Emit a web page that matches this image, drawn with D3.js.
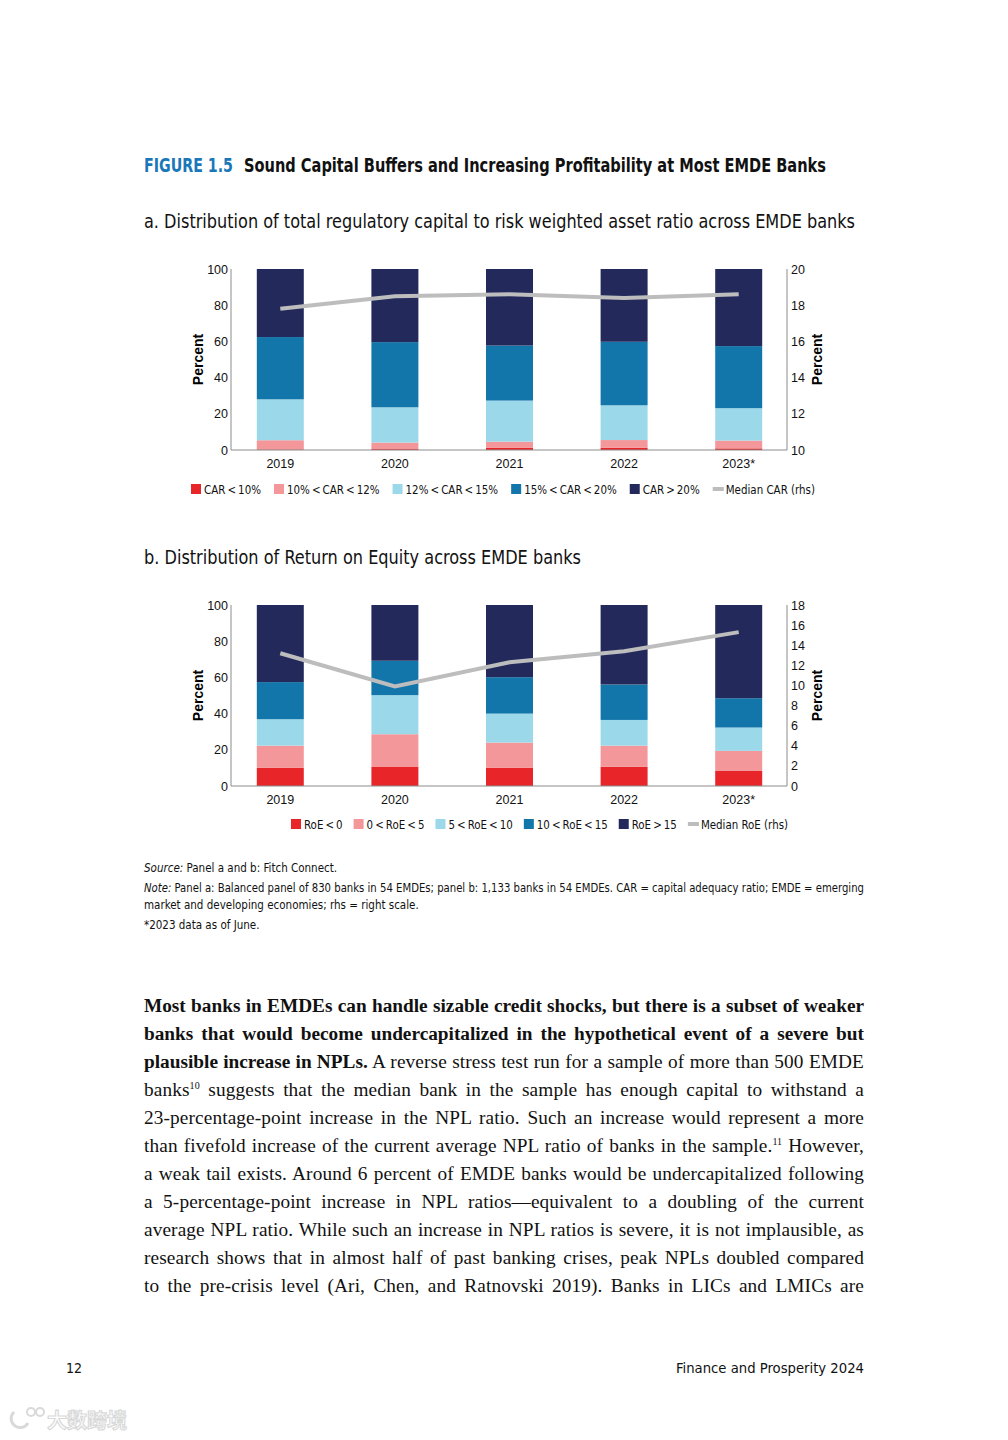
<!DOCTYPE html>
<html>
<head>
<meta charset="utf-8">
<script src="https://cdn.jsdelivr.net/npm/d3@7"></script>
<style>
  body { margin: 0; background: #fff; }
  #page { position: relative; width: 1008px; height: 1440px; overflow: hidden; }
  svg { position: absolute; left: 0; top: 0; }
  .cond { font-family: "Liberation Sans Narrow", "DejaVu Sans Condensed", "Roboto", sans-serif; font-stretch: condensed; }
  #body { position: absolute; left: 144px; top: 992px; width: 720px;
          font-family: "Liberation Serif", "DejaVu Serif", serif; font-size: 19.3px; letter-spacing: 0.12px; color: #111; }
  #body div { height: 28px; line-height: 28px; text-align: justify; text-align-last: justify; white-space: nowrap; }
  #body b { letter-spacing: 0; }
  #body sup { font-size: 10px; line-height: 0; vertical-align: 7px; }
</style>
</head>
<body>
<div id="page">
  <svg id="fig" width="1008" height="1440"></svg>
  <div id="body"></div>
</div>
<script>
const years = ["2019", "2020", "2021", "2022", "2023*"];

// panel a: share of banks by CAR band (percent)
const carBands = ["CAR\u2009<\u200910%", "10%\u2009<\u2009CAR\u2009<\u200912%", "12%\u2009<\u2009CAR\u2009<\u200915%", "15%\u2009<\u2009CAR\u2009<\u200920%", "CAR\u2009>\u200920%"];
const carBelow10 = [0.3, 0.5, 1.3, 1.3, 0.9];
const car10to12 = [5.1, 3.6, 3.3, 4.2, 4.3];
const car12to15 = [22.6, 19.5, 22.7, 19.2, 17.9];
const car15to20 = [34.4, 36.0, 30.4, 35.1, 34.3];
const carAbove20 = [37.6, 40.4, 42.3, 40.2, 42.6];
const medianCar = [17.8, 18.5, 18.6, 18.4, 18.6];

// panel b: share of banks by RoE band (percent)
const roeBands = ["RoE\u2009<\u20090", "0\u2009<\u2009RoE\u2009<\u20095", "5\u2009<\u2009RoE\u2009<\u200910", "10\u2009<\u2009RoE\u2009<\u200915", "RoE\u2009>\u200915"];
const roeBelow0 = [10.0, 10.5, 10.0, 10.7, 8.3];
const roe0to5 = [12.3, 18.1, 14.0, 11.6, 11.1];
const roe5to10 = [14.6, 21.6, 16.0, 14.2, 12.9];
const roe10to15 = [20.5, 19.0, 20.1, 19.6, 16.2];
const roeAbove15 = [42.6, 30.8, 39.9, 43.9, 51.5];
const medianRoe = [13.2, 9.9, 12.3, 13.4, 15.3];

const leftTicks = [0, 20, 40, 60, 80, 100];
const rightTicksA = [10, 12, 14, 16, 18, 20];
const rightTicksB = [0, 2, 4, 6, 8, 10, 12, 14, 16, 18];

const colors = ["#e8262a", "#f4979a", "#9bd9ea", "#1376ab", "#23295b"];
const lineColor = "#bdbdbd";
const axisColor = "#8c8c8c";

const svg = d3.select("#fig");

// headings
const head = svg.append("g").attr("class", "cond");
head.append("text").attr("x", 144).attr("y", 172)
  .attr("font-size", 19).attr("font-weight", "bold").attr("fill", "#1a78b8")
  .attr("textLength", 89).attr("lengthAdjust", "spacingAndGlyphs")
  .text("FIGURE 1.5");
head.append("text").attr("x", 244).attr("y", 172)
  .attr("font-size", 19).attr("font-weight", "bold").attr("fill", "#111")
  .attr("textLength", 582).attr("lengthAdjust", "spacingAndGlyphs")
  .text("Sound Capital Buffers and Increasing Profitability at Most EMDE Banks");
head.append("text").attr("x", 144).attr("y", 228)
  .attr("font-size", 19).attr("fill", "#111")
  .attr("textLength", 711).attr("lengthAdjust", "spacingAndGlyphs")
  .text("a. Distribution of total regulatory capital to risk weighted asset ratio across EMDE banks");
head.append("text").attr("x", 144).attr("y", 564)
  .attr("font-size", 19).attr("fill", "#111")
  .attr("textLength", 437).attr("lengthAdjust", "spacingAndGlyphs")
  .text("b. Distribution of Return on Equity across EMDE banks");

function drawPanel(cfg) {
  const g = svg.append("g").attr("class", "cond");
  const x = d3.scaleBand().domain(years).range([223, 796]).paddingInner(0.59).paddingOuter(0.295);
  const y = d3.scaleLinear().domain([0, 100]).range([cfg.bottom, cfg.top]);
  const y2 = d3.scaleLinear().domain(cfg.rightDomain).range([cfg.bottom, cfg.top]);

  const rows = years.map((yr, i) => {
    const r = { year: yr };
    cfg.series.forEach((s, k) => { r[k] = s[i]; });
    return r;
  });
  const stack = d3.stack().keys(d3.range(cfg.series.length))(rows);

  g.selectAll(".layer").data(stack).join("g")
    .attr("fill", (d, k) => colors[k])
    .selectAll("rect").data(d => d).join("rect")
    .attr("x", d => x(d.data.year))
    .attr("width", x.bandwidth())
    .attr("y", d => y(d[1]))
    .attr("height", d => y(d[0]) - y(d[1]));

  // axis lines, no tick marks
  g.append("line").attr("x1", 231).attr("x2", 231).attr("y1", cfg.top).attr("y2", cfg.bottom)
    .attr("stroke", axisColor).attr("stroke-width", 1);
  g.append("line").attr("x1", 787).attr("x2", 787).attr("y1", cfg.top).attr("y2", cfg.bottom)
    .attr("stroke", axisColor).attr("stroke-width", 1);
  g.append("line").attr("x1", 231).attr("x2", 787).attr("y1", cfg.bottom).attr("y2", cfg.bottom)
    .attr("stroke", axisColor).attr("stroke-width", 1);

  const left = d3.axisLeft(y).tickValues(leftTicks).tickSize(0).tickPadding(3);
  g.append("g").attr("transform", "translate(231,0)").call(left)
    .call(a => a.select(".domain").remove())
    .selectAll("text").attr("font-size", 12.5).attr("fill", "#111").attr("font-family", null);

  const right = d3.axisRight(y2).tickValues(cfg.rightTicks).tickSize(0).tickPadding(4);
  g.append("g").attr("transform", "translate(787,0)").call(right)
    .call(a => a.select(".domain").remove())
    .selectAll("text").attr("font-size", 12.5).attr("fill", "#111").attr("font-family", null);

  const bottom = d3.axisBottom(x).tickSize(0).tickPadding(9);
  g.append("g").attr("transform", `translate(0,${cfg.bottom})`).call(bottom)
    .call(a => a.select(".domain").remove())
    .selectAll("text").attr("font-size", 12.5).attr("fill", "#111").attr("font-family", null);

  const mid = (cfg.top + cfg.bottom) / 2;
  g.append("text").attr("transform", `translate(203,${mid}) rotate(-90)`)
    .attr("text-anchor", "middle").attr("font-size", 14).attr("font-weight", "bold")
    .attr("font-family", "Liberation Sans, Arial, sans-serif").text("Percent");
  g.append("text").attr("transform", `translate(822,${mid}) rotate(-90)`)
    .attr("text-anchor", "middle").attr("font-size", 14).attr("font-weight", "bold")
    .attr("font-family", "Liberation Sans, Arial, sans-serif").text("Percent");

  const line = d3.line().x((d, i) => x(years[i]) + x.bandwidth() / 2).y(d => y2(d));
  g.append("path").datum(cfg.median).attr("d", line)
    .attr("fill", "none").attr("stroke", lineColor).attr("stroke-width", 4);

  // legend: measure the labels, then squeeze them so the row fits its width
  const lg = g.append("g").attr("transform", `translate(${cfg.legendX},${cfg.legendY})`);
  const labels = cfg.labels.concat([cfg.medianLabel]);
  const texts = labels.map(lab => lg.append("text").attr("y", 4.5).attr("font-size", 12.5).attr("fill", "#111").text(lab));
  const natural = texts.map(t => t.node().getComputedTextLength());
  const fixed = labels.length * 13 + (labels.length - 1) * cfg.legendGap;
  const k = Math.min(1, (cfg.legendWidth - fixed) / d3.sum(natural));
  let cx = 0;
  labels.forEach((lab, i) => {
    if (i < colors.length) {
      lg.append("rect").attr("x", cx).attr("y", -5).attr("width", 10).attr("height", 10).attr("fill", colors[i]);
    } else {
      lg.append("rect").attr("x", cx).attr("y", -2).attr("width", 11).attr("height", 4).attr("fill", lineColor);
    }
    const w = natural[i] * k;
    texts[i].attr("x", cx + 13).attr("textLength", w).attr("lengthAdjust", "spacingAndGlyphs");
    cx += 13 + w + cfg.legendGap;
  });
}

drawPanel({
  top: 269, bottom: 450, rightDomain: [10, 20], rightTicks: rightTicksA,
  series: [carBelow10, car10to12, car12to15, car15to20, carAbove20],
  median: medianCar, labels: carBands, medianLabel: "Median CAR (rhs)",
  legendX: 191, legendY: 489, legendGap: 13, legendWidth: 624
});

drawPanel({
  top: 605, bottom: 786, rightDomain: [0, 18], rightTicks: rightTicksB,
  series: [roeBelow0, roe0to5, roe5to10, roe10to15, roeAbove15],
  median: medianRoe, labels: roeBands, medianLabel: "Median RoE (rhs)",
  legendX: 291, legendY: 824, legendGap: 11, legendWidth: 497
});

// source and notes
const notes = svg.append("g").attr("class", "cond").attr("font-size", 11.5).attr("fill", "#111");
const n1 = notes.append("text").attr("x", 144).attr("y", 872);
n1.append("tspan").attr("font-style", "italic").text("Source:");
n1.append("tspan").text(" Panel a and b: Fitch Connect.");
const n2 = notes.append("text").attr("x", 144).attr("y", 892)
  .attr("textLength", 720).attr("lengthAdjust", "spacingAndGlyphs");
n2.append("tspan").attr("font-style", "italic").text("Note:");
n2.append("tspan").text(" Panel a: Balanced panel of 830 banks in 54 EMDEs; panel b: 1,133 banks in 54 EMDEs. CAR = capital adequacy ratio; EMDE = emerging");
notes.append("text").attr("x", 144).attr("y", 909).text("market and developing economies; rhs = right scale.");
notes.append("text").attr("x", 144).attr("y", 929).text("*2023 data as of June.");

// body text, one justified block per printed line
const bodyLines = [
  "<b>Most banks in EMDEs can handle sizable credit shocks, but there is a subset of weaker</b>",
  "<b>banks that would become undercapitalized in the hypothetical event of a severe but</b>",
  "<b>plausible increase in NPLs.</b> A reverse stress test run for a sample of more than 500 EMDE",
  "banks<sup>10</sup> suggests that the median bank in the sample has enough capital to withstand a",
  "23-percentage-point increase in the NPL ratio. Such an increase would represent a more",
  "than fivefold increase of the current average NPL ratio of banks in the sample.<sup>11</sup> However,",
  "a weak tail exists. Around 6 percent of EMDE banks would be undercapitalized following",
  "a 5-percentage-point increase in NPL ratios\u2014equivalent to a doubling of the current",
  "average NPL ratio. While such an increase in NPL ratios is severe, it is not implausible, as",
  "research shows that in almost half of past banking crises, peak NPLs doubled compared",
  "to the pre-crisis level (Ari, Chen, and Ratnovski 2019). Banks in LICs and LMICs are"
];
d3.select("#body").selectAll("div").data(bodyLines).join("div").html(d => d);

// footer
const foot = svg.append("g").attr("class", "cond").attr("font-size", 14).attr("fill", "#111");
foot.append("text").attr("x", 66).attr("y", 1373).text("12");
foot.append("text").attr("x", 864).attr("y", 1373).attr("text-anchor", "end")
  .attr("textLength", 188).attr("lengthAdjust", "spacingAndGlyphs").text("Finance and Prosperity 2024");

// faint watermark
const wm = svg.append("g").attr("opacity", 0.55);
wm.append("path").attr("d", "M14,1412 a9,9 0 1,0 14,11").attr("fill", "none").attr("stroke", "#bbb").attr("stroke-width", 3);
wm.append("circle").attr("cx", 31).attr("cy", 1412).attr("r", 4).attr("fill", "none").attr("stroke", "#bbb").attr("stroke-width", 2);
wm.append("circle").attr("cx", 40).attr("cy", 1412).attr("r", 4).attr("fill", "none").attr("stroke", "#bbb").attr("stroke-width", 2);
wm.append("text").attr("x", 47).attr("y", 1428).attr("font-size", 20).attr("fill", "#fff")
  .attr("stroke", "#bbb").attr("stroke-width", 1.2)
  .attr("font-family", "Noto Sans CJK SC, sans-serif").attr("font-weight", "bold").text("大数跨境");
</script>
</body>
</html>
